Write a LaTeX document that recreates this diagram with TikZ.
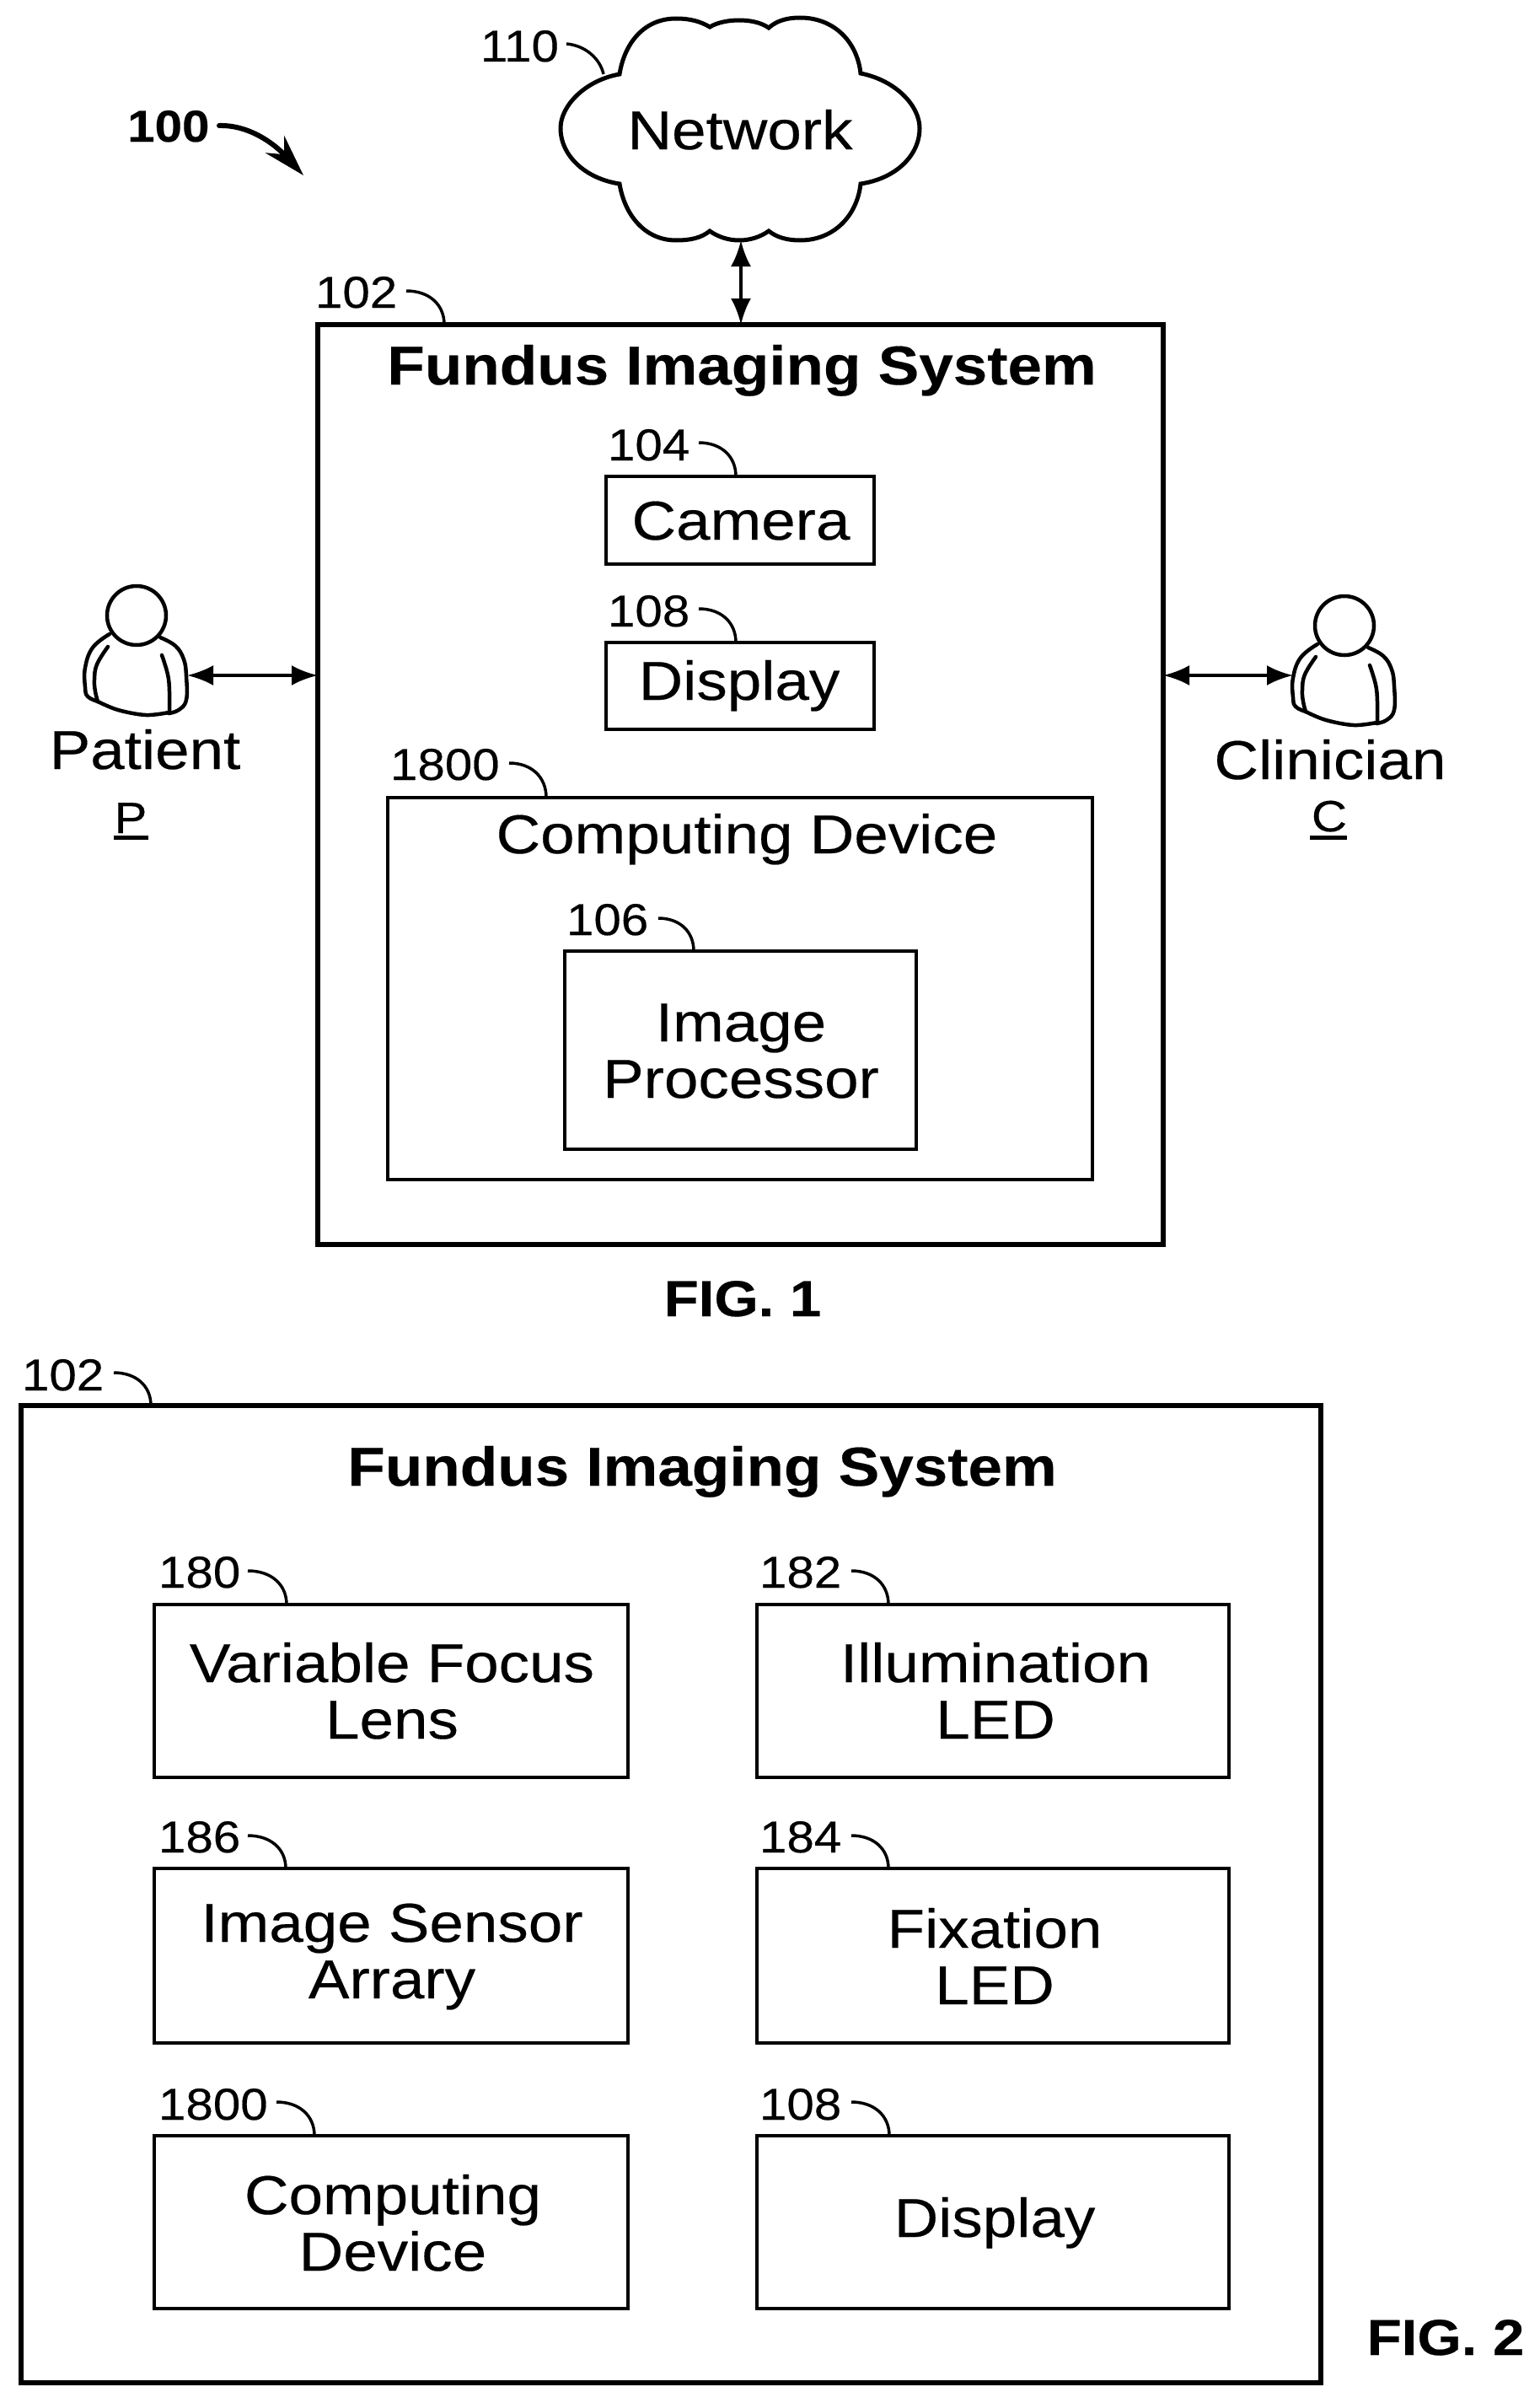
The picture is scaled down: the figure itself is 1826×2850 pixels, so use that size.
\documentclass[tikz,border=0pt]{standalone}
\usepackage{fontspec}
\usetikzlibrary{arrows.meta,calc}
\setmainfont[FakeStretch=1.12,FakeBold=0.3]{Liberation Sans}
\newfontfamily\numfont[FakeStretch=1.1,FakeBold=0.3]{Liberation Sans}
\tikzset{
  x=1pt,y=-1pt,
  box/.style n args={4}{draw=black,line width=4.5pt,inner sep=0,outer sep=0,anchor=north west,
     minimum width={(#3)*1pt-(#1)*1pt},minimum height={(#4)*1pt-(#2)*1pt}},
  bigbox/.style n args={4}{box={#1}{#2}{#3}{#4},line width=5.5pt},
  txt/.style={inner sep=0,outer sep=0,anchor=base,align=center,font=\fontsize{65}{67}\selectfont},
  bold/.style={txt,font=\fontsize{65}{67}\selectfont\bfseries},
  figl/.style={txt,font=\fontsize{60}{61}\selectfont\bfseries},
  num/.style={inner sep=0,outer sep=0,anchor=base west,font=\fontsize{53}{55}\selectfont\numfont},
  subl/.style={txt,font=\fontsize{52}{54}\selectfont},
  leader/.style={draw=black,line width=3.5pt},
  link/.style={draw=black,line width=4pt,{Latex[length=31pt,width=24pt]}-{Latex[length=31pt,width=24pt]},shorten <=0pt,shorten >=0pt},
  figure/.style={line width=4.5pt,draw=black,line join=round,line cap=round},
}
\newcommand\ldr[4]{%
  \coordinate (ls) at (#1,#2);
  \coordinate (le) at (#3,0 |- #4.north);
  \draw[leader] (ls) .. controls ($(ls)!0.6!(ls -| le)$) and ($(le)!0.6!(le |- ls)$) .. (le);}
\newcommand\person[3]{% name, head centre x, y
  \begin{scope}[shift={(#2,#3)}]
    \draw[figure] plot[smooth,tension=0.7] coordinates {(-32,22) (-52,38) (-61,62) (-61,85) (-58,96) (-46,102)};
    \draw[figure] plot[smooth,tension=0.7] coordinates {(-34,37) (-47,58) (-50,76) (-49,90) (-46,102)};
    \draw[figure] plot[smooth,tension=0.6] coordinates {(-46,102) (-22,112) (11,118) (38,115)};
    \draw[figure] plot[smooth,tension=0.7] coordinates {(28,26) (46,36) (56,52) (59,72) (59,100) (50,112) (38,116)};
    \draw[figure] plot[smooth,tension=0.7] coordinates {(30,47) (37,70) (39,90) (39,116)};
    \node[circle,draw=black,line width=4.5pt,fill=white,minimum size=70pt,inner sep=0,outer sep=0] (#1) at (0,0) {};
  \end{scope}}
\begin{document}
\begin{tikzpicture}
\useasboundingbox (0,0) rectangle (1826,2850);
\fill[white] (0,0) rectangle (1826,2850);

% cloud
\draw[line width=5pt,draw=black] (735,88) .. controls (741,50) and (765,22) .. (802,22)
  .. controls (820,22) and (832,26) .. (842,32)
  .. controls (852,26) and (866,24) .. (877,24)
  .. controls (888,24) and (902,26) .. (912,33)
  .. controls (922,24) and (935,21) .. (949,21)
  .. controls (990,21) and (1017,50) .. (1021,87)
  .. controls (1062,95) and (1091,125) .. (1091,152)
  .. controls (1091,185) and (1062,212) .. (1021,218)
  .. controls (1017,255) and (990,285) .. (949,285)
  .. controls (935,285) and (922,282) .. (912,274)
  .. controls (902,281) and (890,285) .. (877,285)
  .. controls (864,285) and (852,281) .. (842,274)
  .. controls (832,282) and (820,285) .. (802,285)
  .. controls (765,285) and (741,255) .. (735,218)
  .. controls (695,212) and (665,185) .. (665,152)
  .. controls (665,125) and (695,95) .. (735,88) -- cycle;
\node[txt] (network) at (878,177) {Network};
\coordinate (cloudbase) at (879,285);

% FIG 1 boxes
\node[bigbox={377}{385}{1380}{1476}] (sys) at (377,385) {};
\node[box={719}{565}{1037}{669}] (camera) at (719,565) {};
\node[box={719}{762}{1037}{865}] (display) at (719,762) {};
\node[box={460}{946}{1296}{1399}] (comp) at (460,946) {};
\node[box={670}{1128}{1087}{1363}] (proc) at (670,1128) {};

\node[bold] (systitle) at (880,456) {Fundus Imaging System};
\node[txt] (cameratext) at (879,640) {Camera};
\node[txt] (displaytext) at (877,830) {Display};
\node[txt] (comptext) at (886,1012) {Computing Device};
\node[txt] (proctext) at (879,1302) {Image\\Processor};
\node[figl] (fig1) at (881,1561) {FIG. 1};

% numerals fig 1
\node[font=\fontsize{53}{55}\selectfont\bfseries\numfont,inner sep=0,anchor=base west] (n100) at (151,168) {100};
\node[num] (n110) at (570,73) {110};
\node[num] (n102) at (374,365) {102};
\node[num] (n104) at (721,546) {104};
\node[num] (n108) at (721,743) {108};
\node[num] (n1800) at (463,925) {1800};
\node[num] (n106) at (672,1109) {106};

\draw[line width=6pt,line cap=round,-{Stealth[length=50pt,width=30pt]}] (260,149) .. controls (295,148) and (325,170) .. (360,208);
\draw[leader] (672,52) .. controls (695,54) and (712,70) .. (716,88);
\ldr{482}{345}{527}{sys}
\ldr{829}{525}{873}{camera}
\ldr{829}{722}{873}{display}
\ldr{604}{905}{648}{comp}
\ldr{781}{1089}{823}{proc}

% arrows
\draw[link] (cloudbase) -- (cloudbase |- sys.north);

% persons
\person{phead}{162}{730}
\person{chead}{1595}{742}
\coordinate (phand) at (222,801);
\coordinate (chand) at (1534,801);
\draw[link] (phand) -- (phand -| sys.west);
\draw[link] (chand -| sys.east) -- (chand);
\node[txt] (patient) at (172,912) {Patient};
\node[subl] (ptag) at (155,988) {P};
\draw[line width=5pt] (135,993) -- (176,993);
\node[txt] (clinician) at (1578,924) {Clinician};
\node[subl] (ctag) at (1577,986) {C};
\draw[line width=5pt] (1554,993) -- (1598,993);

% FIG 2 boxes
\node[bigbox={25}{1667}{1567}{2826}] (sys2) at (25,1667) {};
\node[box={183}{1903}{745}{2108}] (lens) at (183,1903) {};
\node[box={183}{2216}{745}{2423}] (sensor) at (183,2216) {};
\node[box={183}{2533}{745}{2738}] (comp2) at (183,2533) {};
\node[box={898}{1903}{1458}{2108}] (illum) at (898,1903) {};
\node[box={898}{2216}{1458}{2423}] (fix) at (898,2216) {};
\node[box={898}{2533}{1458}{2738}] (display2) at (898,2533) {};

\node[bold] (sys2title) at (833,1762) {Fundus Imaging System};
\node[txt] (lenstext) at (465,2062) {Variable Focus\\Lens};
\node[txt] (sensortext) at (465,2370) {Image Sensor\\Arrary};
\node[txt] (comp2text) at (466,2693) {Computing\\Device};
\node[txt] (illumtext) at (1181,2062) {Illumination\\LED};
\node[txt] (fixtext) at (1180,2377) {Fixation\\LED};
\node[txt] (display2text) at (1180,2653) {Display};
\node[figl] (fig2) at (1715,2793) {FIG. 2};

\node[num] (n102b) at (26,1649) {102};
\node[num] (n180) at (188,1883) {180};
\node[num] (n186) at (188,2197) {186};
\node[num] (n1800b) at (188,2514) {1800};
\node[num] (n182) at (901,1883) {182};
\node[num] (n184) at (901,2197) {184};
\node[num] (n108b) at (901,2514) {108};

\ldr{135}{1628}{179}{sys2}
\ldr{294}{1863}{340}{lens}
\ldr{294}{2177}{339}{sensor}
\ldr{328}{2493}{373}{comp2}
\ldr{1010}{1863}{1054}{illum}
\ldr{1010}{2177}{1054}{fix}
\ldr{1010}{2493}{1055}{display2}
\end{tikzpicture}
\end{document}
